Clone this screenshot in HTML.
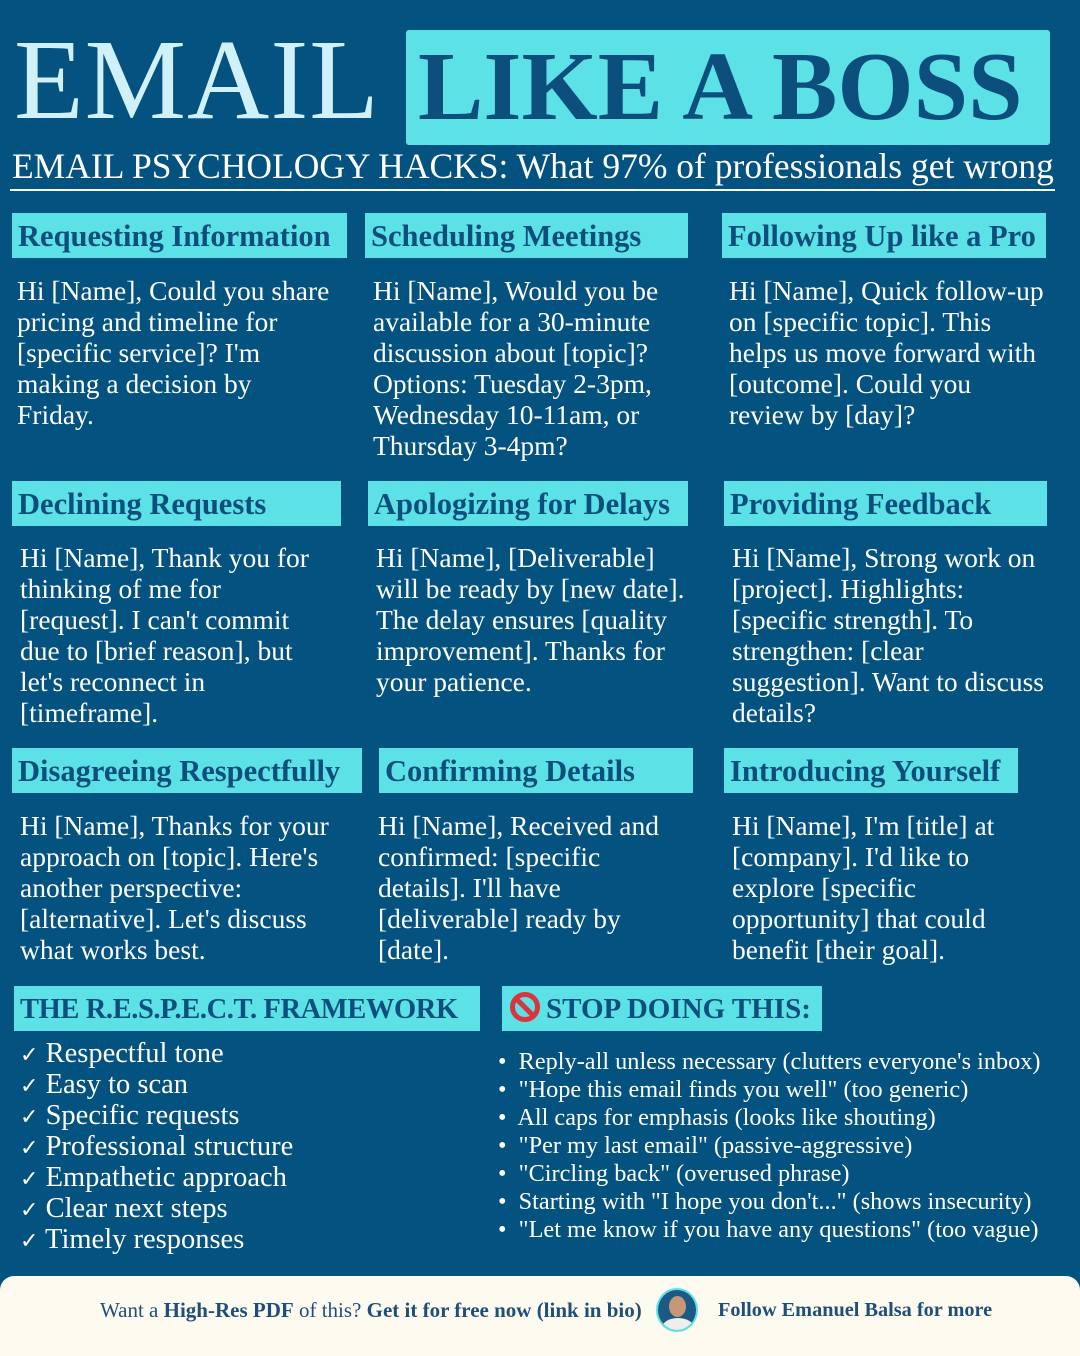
<!DOCTYPE html>
<html><head><meta charset="utf-8"><style>
*{margin:0;padding:0;box-sizing:border-box}
body{width:1080px;height:1350px;background:#04527f;position:relative;overflow:hidden;font-family:"Liberation Serif",serif}
.a{position:absolute;white-space:nowrap}
.h{position:absolute;background:#5ce1e6;color:#0d4f7c;font-weight:bold;font-size:30.5px;height:45px;line-height:47px;padding-left:6px;white-space:nowrap;overflow:hidden}
.b{position:absolute;color:#fff;font-size:27.5px;line-height:31px;white-space:nowrap}
.ck{position:absolute;left:20px;color:#fff;font-size:28.5px;line-height:31px;top:1038px;white-space:nowrap}
.ck span{font-size:22px;line-height:1;vertical-align:baseline}
.bl{position:absolute;left:498px;top:1048px;color:#fff;font-size:24.3px;line-height:28px;white-space:nowrap}
</style></head><body>
<div class="a" style="left:14px;top:20px;font-size:114px;line-height:120px;color:#d0f0fa;letter-spacing:1px">EMAIL</div>
<div class="a" style="left:406px;top:30px;width:644px;height:115px;background:#5ce1e6;border-radius:3px"></div>
<div class="a" style="left:418px;top:27px;font-size:98px;line-height:120px;color:#0d4f7c;font-weight:bold">LIKE A BOSS</div>
<div class="a" style="left:12px;top:145px;font-size:35.5px;line-height:42px;color:#fff">EMAIL PSYCHOLOGY HACKS: What 97% of professionals get wrong</div>
<div class="a" style="left:10px;top:189px;width:1045px;height:2px;background:#fff"></div>

<div class="h" style="left:12px;top:213px;width:335px">Requesting Information</div>
<div class="h" style="left:365px;top:213px;width:323px">Scheduling Meetings</div>
<div class="h" style="left:722px;top:213px;width:324px">Following Up like a Pro</div>
<div class="b" style="left:17px;top:275px">Hi [Name], Could you share<br>pricing and timeline for<br>[specific service]? I'm<br>making a decision by<br>Friday.</div>
<div class="b" style="left:373px;top:275px">Hi [Name], Would you be<br>available for a 30-minute<br>discussion about [topic]?<br>Options: Tuesday 2-3pm,<br>Wednesday 10-11am, or<br>Thursday 3-4pm?</div>
<div class="b" style="left:729px;top:275px">Hi [Name], Quick follow-up<br>on [specific topic]. This<br>helps us move forward with<br>[outcome]. Could you<br>review by [day]?</div>

<div class="h" style="left:12px;top:481px;width:329px">Declining Requests</div>
<div class="h" style="left:368px;top:481px;width:320px">Apologizing for Delays</div>
<div class="h" style="left:724px;top:481px;width:323px">Providing Feedback</div>
<div class="b" style="left:20px;top:542px">Hi [Name], Thank you for<br>thinking of me for<br>[request]. I can't commit<br>due to [brief reason], but<br>let's reconnect in<br>[timeframe].</div>
<div class="b" style="left:376px;top:542px">Hi [Name], [Deliverable]<br>will be ready by [new date].<br>The delay ensures [quality<br>improvement]. Thanks for<br>your patience.</div>
<div class="b" style="left:732px;top:542px">Hi [Name], Strong work on<br>[project]. Highlights:<br>[specific strength]. To<br>strengthen: [clear<br>suggestion]. Want to discuss<br>details?</div>

<div class="h" style="left:12px;top:748px;width:350px">Disagreeing Respectfully</div>
<div class="h" style="left:379px;top:748px;width:314px">Confirming Details</div>
<div class="h" style="left:724px;top:748px;width:294px">Introducing Yourself</div>
<div class="b" style="left:20px;top:810px">Hi [Name], Thanks for your<br>approach on [topic]. Here's<br>another perspective:<br>[alternative]. Let's discuss<br>what works best.</div>
<div class="b" style="left:378px;top:810px">Hi [Name], Received and<br>confirmed: [specific<br>details]. I'll have<br>[deliverable] ready by<br>[date].</div>
<div class="b" style="left:732px;top:810px">Hi [Name], I'm [title] at<br>[company]. I'd like to<br>explore [specific<br>opportunity] that could<br>benefit [their goal].</div>

<div class="h" style="left:14px;top:986px;width:466px;font-size:28.5px;letter-spacing:-0.4px">THE R.E.S.P.E.C.T. FRAMEWORK</div>
<div class="h" style="left:502px;top:986px;width:320px;font-size:29px;padding-left:8px"><span style="display:inline-block;width:30px;height:30px;border:5px solid #d9353f;border-radius:50%;position:relative;vertical-align:-4px;margin-right:6px"><span style="position:absolute;left:-3px;top:8px;width:26px;height:5px;background:#d9353f;transform:rotate(45deg)"></span></span>STOP DOING THIS:</div>
<div class="ck"><span>✓</span> Respectful tone<br><span>✓</span> Easy to scan<br><span>✓</span> Specific requests<br><span>✓</span> Professional structure<br><span>✓</span> Empathetic approach<br><span>✓</span> Clear next steps<br><span>✓</span> Timely responses</div>
<div class="bl">•&nbsp; Reply-all unless necessary (clutters everyone's inbox)<br>•&nbsp; "Hope this email finds you well" (too generic)<br>•&nbsp; All caps for emphasis (looks like shouting)<br>•&nbsp; "Per my last email" (passive-aggressive)<br>•&nbsp; "Circling back" (overused phrase)<br>•&nbsp; Starting with "I hope you don't..." (shows insecurity)<br>•&nbsp; "Let me know if you have any questions" (too vague)</div>

<div class="a" style="left:0;top:1276px;width:1080px;height:80px;background:#fdfbf0;border-radius:14px 14px 0 0"></div>
<div class="a" style="left:100px;top:1296px;font-size:21px;line-height:28px;color:#1f4e7a">Want a <b>High-Res PDF</b> of this? <b>Get it for free now (link in bio)</b></div>
<div class="a" style="left:656px;top:1288px;width:42px;height:44px;border-radius:50%;background:#1c5a86;border:2px solid #5ce1e6;overflow:hidden"><div style="position:absolute;left:11px;top:6px;width:17px;height:21px;border-radius:50%;background:#c79877"></div><div style="position:absolute;left:4px;top:28px;width:32px;height:20px;border-radius:50% 50% 0 0;background:#eee"></div></div>
<div class="a" style="left:718px;top:1296px;font-size:20.3px;line-height:28px;color:#1f4e7a;font-weight:bold">Follow Emanuel Balsa for more</div>
</body></html>
